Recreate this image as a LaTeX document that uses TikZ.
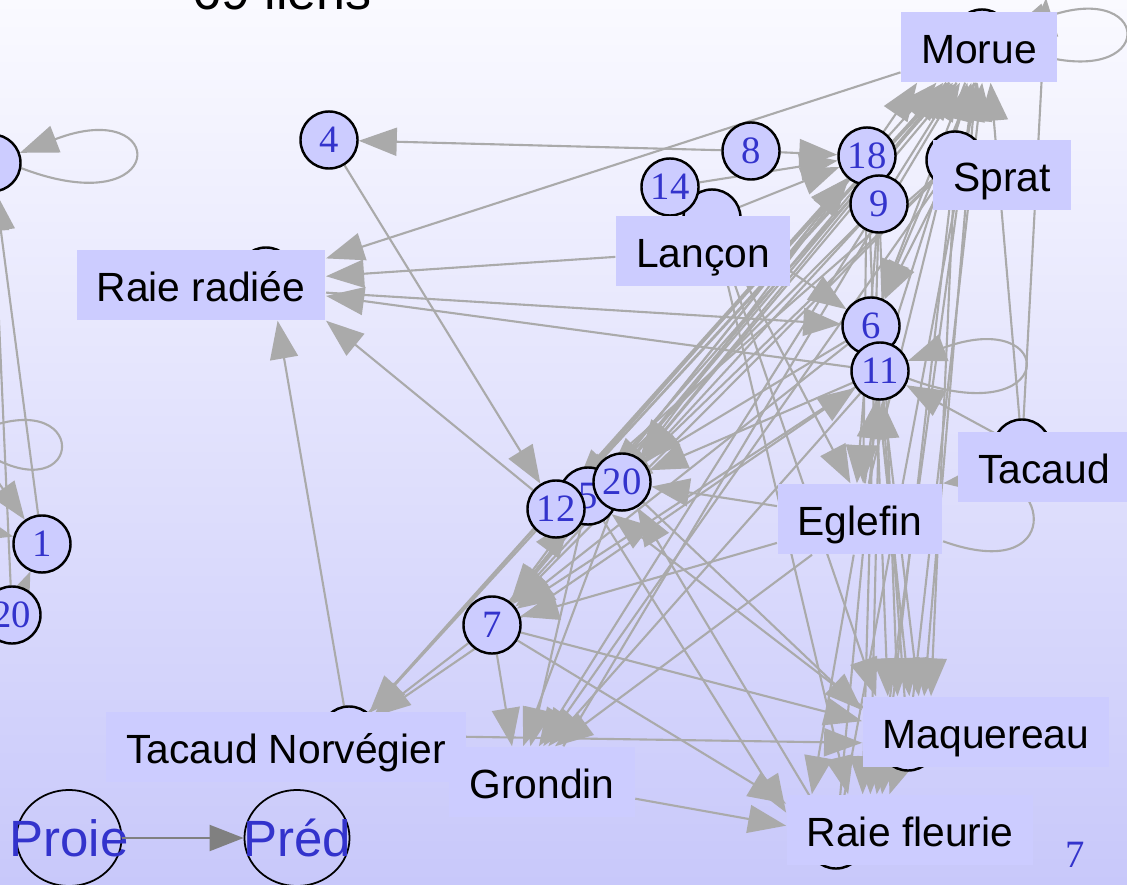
\documentclass[tikz,border=0pt]{standalone}
\usepackage{fontspec}
\setmainfont{Liberation Serif}
\setsansfont{Liberation Sans}
\usetikzlibrary{arrows.meta,shapes.geometric}

\definecolor{nodefill}{RGB}{204,204,255}
\definecolor{numblue}{RGB}{51,51,204}
\definecolor{linkgray}{RGB}{170,170,170}
\definecolor{leggray}{RGB}{128,128,128}
\definecolor{bgtop}{RGB}{250,250,255}
\definecolor{bgmid}{RGB}{238,238,252}
\definecolor{bgbot}{RGB}{200,200,250}

\pgfdeclarelayer{bg}
\pgfdeclarelayer{links}
\pgfsetlayers{bg,links,main}

\begin{document}
\begin{tikzpicture}[x=0.01cm, y=-0.01cm,
		num/.style={circle, draw, line width=0.7pt, fill=nodefill, minimum size=0.57cm, inner sep=0pt, text=numblue, font=\fontsize{11}{11}\selectfont},
		species/.style={fill=nodefill, inner xsep=0.2cm, minimum height=0.7cm, text height=0.33cm, text depth=0pt, font=\sffamily\fontsize{11.6}{12}\selectfont},
		link/.style={draw=linkgray, line width=0.6pt, -{Triangle[length=0.38cm, width=0.28cm]}},
		legend/.style={ellipse, draw, line width=0.5pt, minimum width=1.05cm, minimum height=0.96cm, inner sep=0pt},
		legtext/.style={text=numblue, font=\sffamily\fontsize{14.5}{15}\selectfont},
		legarrow/.style={draw=leggray, line width=0.6pt, -{Triangle[length=0.34cm, width=0.26cm]}}]

			\useasboundingbox (0,0) rectangle (1127,885);
			\begin{pgfonlayer}{bg}
				\shade[top color=bgtop, middle color=bgmid, bottom color=bgbot] (0,0) rectangle (1127,885);
			\end{pgfonlayer}

			\node[font=\sffamily\fontsize{14.8}{15}\selectfont, anchor=base] (titre) at (282,10) {69 liens};

			\node[num] (lnode) at (-8,163) {};
			\node[num] (n1) at (42,544) {1};
			\node[num] (n20a) at (12,615) {20};
			\node[num] (n4) at (329,140) {4};
			\node[num] (n8) at (751,151) {8};
			\node[num] (hlancon) at (712,218) {};
			\node[num] (n14) at (670,187) {14};
			\node[num] (hmorue) at (982,38) {};
			\node[num] (n18) at (867,156) {18};
			\node[num] (n9) at (879,204) {9};
			\node[num] (hsprat) at (955,160) {};
			\node[num] (n6) at (871,326) {6};
			\node[num] (n11) at (880,371) {11};
			\node[num] (htacaud) at (1022,448) {};
			\node[num] (n5) at (588,496) {5};
			\node[num] (n12) at (556,509) {12};
			\node[num] (n20) at (622,482) {20};
			\node[num] (n7) at (492,625) {7};
			\node[num] (hraier) at (266,276) {};
			\node[num] (htn) at (349,735) {};
			\node[num] (hmaq) at (908,742) {};
			\node[num] (hrf) at (836,840) {};

			\node[species] (morue) at (979,47) {Morue};
			\node[species] (sprat) at (1002,175) {Sprat};
			\node[species] (lancon) at (703,251) {Lançon};
			\node[species] (raier) at (201,285) {Raie radiée};
			\node[species] (tacaud) at (1044,467) {Tacaud};
			\node[species] (eglefin) at (860,519) {Eglefin};
			\node[species] (tn) at (286,747) {Tacaud Norvégier};
			\node[species] (grondin) at (542,782) {Grondin};
			\node[species] (maq) at (986,732) {Maquereau};
			\node[species] (rf) at (910,830) {Raie fleurie};

			\node[legend, label={[legtext]center:Proie}] (proie) at (69,838) {};
			\node[legend, label={[legtext]center:Préd}] (pred) at (297,838) {};
			\draw[legarrow] (proie) -- (pred);

			\node[text=numblue, font=\fontsize{11}{11}\selectfont] (pagenum) at (1075,855) {7};

			\coordinate (offw1) at (-60,400);
			\coordinate (offw2) at (-70,515);
			\coordinate (offloop) at (-40,440);
			\coordinate (offtop) at (1046,-2);

			\begin{pgfonlayer}{links}
			\draw[link] (hmorue.-15) .. controls (1160,105) and (1160,-25) .. (hmorue.15);
			\draw[link] (lnode.-10) .. controls (170,225) and (170,95) .. (lnode.20);
			\draw[link] (n11.-15) .. controls (1060,435) and (1060,305) .. (n11.20);
			\draw[link] (eglefin.-15) .. controls (1065,585) and (1050,470) .. (eglefin.north east);
			\draw[link] (offloop) .. controls (90,370) and (90,510) .. (offloop);

			\draw[link] (offw1) -- (n1);
			\draw[link] (offw2) -- (n1);
			\draw[link] (n1) -- (lnode);
			\draw[link] (n20a) -- (lnode);
			\draw[link] (n20a) -- (n1);

			\draw[link] (n8) -- (n4);
			\draw[link] (n8) -- (n18);
			\draw[link] (n14) -- (n18);
			\draw[link] (hlancon) -- (n18);
			\draw[link] (n4) -- (n12);
			\draw[link] (morue) -- (raier.12);
			\draw[link] (lancon) -- (raier.4);
			\draw[link] (n11) -- (raier.-5);
			\draw[link] (raier) -- (n6);
			\draw[link] (n12) -- (raier.south east);
			\draw[link] (htn) -- (raier.-25);
			\draw[link] (htacaud) -- (offtop);

			\draw[link] (htn) -- (morue.-140);
			\draw[link] (n7) -- (morue.-135);
			\draw[link] (n12) -- (morue.-130);
			\draw[link] (n5) -- (morue.-126);
			\draw[link] (n20) -- (morue.-122);
			\draw[link] (grondin) -- (morue.-118);
			\draw[link] (n18) -- (morue.-150);
			\draw[link] (eglefin) -- (morue.-108);
			\draw[link] (n11) -- (morue.-102);
			\draw[link] (n6) -- (morue.-98);
			\draw[link] (hrf) -- (morue.-92);
			\draw[link] (hmaq) -- (morue.-85);
			\draw[link] (htacaud) -- (morue.-72);

			\draw[link] (n12) -- (n18);
			\draw[link] (n7) -- (n18);
			\draw[link] (htn) -- (n18);

			\draw[link] (morue) -- (n20);
			\draw[link] (hsprat) -- (n20);
			\draw[link] (n18) -- (n20);
			\draw[link] (n11) -- (n20);
			\draw[link] (eglefin) -- (n20);
			\draw[link] (hrf) -- (n20);
			\draw[link] (n9) -- (n5);
			\draw[link] (n6) -- (n5);
			\draw[link] (hmaq) -- (n5);
			\draw[link] (n7) -- (n5);
			\draw[link] (hsprat) -- (n12);
			\draw[link] (morue) -- (n12);

			\draw[link] (morue) -- (n7);
			\draw[link] (hsprat) -- (n7);
			\draw[link] (n9) -- (n7);
			\draw[link] (n18) -- (n7);
			\draw[link] (n6) -- (n7);
			\draw[link] (n11) -- (n7);
			\draw[link] (eglefin) -- (n7);

			\draw[link] (n7) -- (htn);
			\draw[link] (n12) -- (htn);

			\draw[link] (n7) -- (grondin.130);
			\draw[link] (n20) -- (grondin.118);
			\draw[link] (n5) -- (grondin.108);
			\draw[link] (morue) -- (grondin.95);
			\draw[link] (hsprat) -- (grondin.88);
			\draw[link] (n11) -- (grondin.80);
			\draw[link] (eglefin) -- (grondin.70);

			\draw[link] (morue) -- (maq.150);
			\draw[link] (hsprat) -- (maq.147);
			\draw[link] (n9) -- (maq.158);
			\draw[link] (n18) -- (maq.160);
			\draw[link] (n6) -- (maq.155);
			\draw[link] (n11) -- (maq.152);
			\draw[link] (hlancon) -- (maq.162);
			\draw[link] (n7) -- (maq.175);
			\draw[link] (htn) -- (maq.185);
			\draw[link] (n20) -- (maq.170);

			\draw[link] (grondin) -- (rf.178);
			\draw[link] (n5) -- (rf.172);
			\draw[link] (n7) -- (rf.168);
			\draw[link] (eglefin) -- (rf.160);
			\draw[link] (hlancon) -- (rf.150);
			\draw[link] (n9) -- (rf.143);
			\draw[link] (n11) -- (rf.138);
			\draw[link] (morue) -- (rf.133);
			\draw[link] (hsprat) -- (rf.128);
			\draw[link] (hmaq) -- (rf.120);

			\draw[link] (hlancon) -- (n6);
			\draw[link] (hsprat) -- (n6);
			\draw[link] (morue) -- (n6);

			\draw[link] (htacaud) -- (n11);
			\draw[link] (eglefin) -- (n11);
			\draw[link] (hmaq) -- (n11);
			\draw[link] (hrf) -- (n11);
			\draw[link] (htn) -- (n11);

			\draw[link] (n9) -- (eglefin.95);
			\draw[link] (hlancon) -- (eglefin.105);
			\draw[link] (n18) -- (eglefin.85);
			\end{pgfonlayer}

		\end{tikzpicture}
\end{document}
